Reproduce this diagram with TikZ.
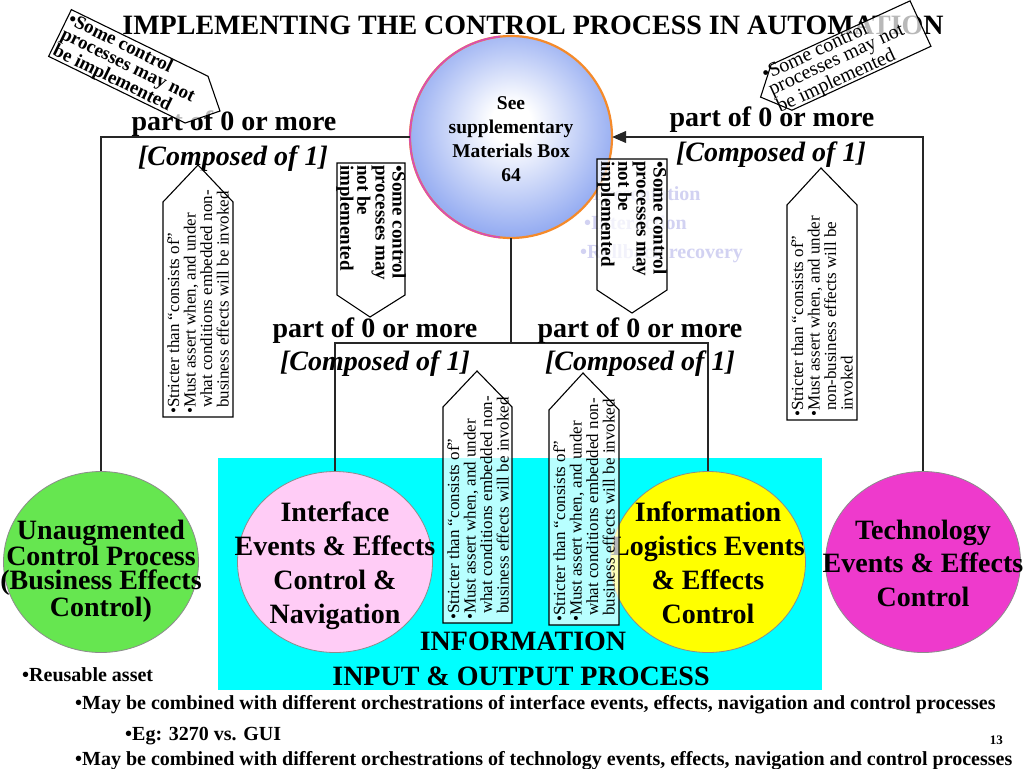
\documentclass[tikz,border=0pt]{standalone}
\usepackage{fontspec}
\setmainfont{Liberation Serif}
\usetikzlibrary{arrows.meta,shapes.geometric}
\definecolor{supblue}{HTML}{5A7EEA}
\definecolor{rimmag}{HTML}{D94FB0}
\definecolor{rimorg}{HTML}{F58A2A}
\definecolor{cgreen}{HTML}{66E650}
\definecolor{cpink}{HTML}{FFCCF6}
\definecolor{cyel}{HTML}{FFFF00}
\definecolor{cmag}{HTML}{EE3ACC}
\definecolor{ccyan}{HTML}{00FFFF}
\definecolor{faded}{HTML}{D2D2F2}
\pgfdeclareradialshading{supshade}{\pgfpoint{0bp}{4bp}}{color(0bp)=(white); color(5bp)=(white); color(38bp)=(supblue); color(50bp)=(supblue)}
\newcommand{\setfs}[2]{\fontsize{#1}{#2}\selectfont}
\begin{document}
\begin{tikzpicture}[x=1pt,y=-1pt,
  conn/.style={draw=black!85, line width=1.2pt},
  lbl/.style={anchor=base, inner sep=0pt, font=\setfs{28}{28}\bfseries},
  lbli/.style={anchor=base, inner sep=0pt, font=\setfs{28}{28}\bfseries\itshape},
  blob/.style={ellipse, draw=black!45, line width=0.8pt, minimum width=195pt, minimum height=181pt, inner sep=0pt},
  ctext/.style={align=center, inner sep=0pt, font=\setfs{28}{#1}\bfseries},
  callout/.style={draw=black, line width=1.1pt, fill=white, fill opacity=0.72},
  vnote/.style={align=left, inner sep=0pt, anchor=west, rotate=90, font=\setfs{17}{16.5}},
  vbold/.style={align=left, inner sep=0pt, anchor=west, rotate=-90, font=\setfs{19}{17}\bfseries},
  btext/.style={anchor=base west, inner sep=0pt, font=\setfs{20}{20}\bfseries},
  fadedtext/.style={anchor=base west, inner sep=0pt, text=faded, font=\setfs{20}{20}\bfseries},
]
\useasboundingbox (0,0) rectangle (1024,768);
\fill[white] (0,0) rectangle (1024,768);
% cyan band
\fill[ccyan] (218,458) rectangle (822,690);
% faded list
\node[fadedtext] (f1) at (586,200) {•Presentation};
\node[fadedtext] (f2) at (584,229) {•Interaction};
\node[fadedtext] (f3) at (580,258) {•Rollback recovery};
% title
\node[anchor=base, inner sep=0pt, font=\setfs{28}{28}\bfseries] (title) at (533,35) {IMPLEMENTING THE CONTROL PROCESS IN AUTOMATION};
% circles
\node[blob, fill=cgreen] (unaug) at (101,562) {};
\node[blob, fill=cpink] (iface) at (335,562) {};
\node[blob, fill=cyel] (info) at (708,562) {};
\node[blob, fill=cmag] (tech) at (923,562) {};
\node[circle, minimum size=202pt, inner sep=0pt, shading=supshade] (sup) at (511,137) {};
\draw[rimorg, line width=2.2pt] (sup.center) circle[radius=101];
\begin{scope}
\clip (395,20) rectangle (500,260);
\draw[rimmag, line width=1.8pt] (sup.center) circle[radius=101];
\end{scope}
\node[align=center, inner sep=0pt, font=\setfs{19.5}{24}\bfseries] (supt) at (511,139) {See\\supplementary\\Materials Box\\64};
% connectors
\coordinate (jmid) at (511,343);
\draw[conn] (sup.west) -| (unaug.north);
\draw[conn, -{Triangle[length=14pt,width=12pt]}] (tech.north) |- (sup.east);
\draw[conn] (sup.south) -- (jmid);
\draw[conn] (iface.north) |- (jmid) -| (info.north);
% labels
\node[lbl] (p1) at (234,130) {part of 0 or more};
\node[lbli] (c1) at (233,165) {[Composed of 1]};
\node[lbl] (p2) at (772,126) {part of 0 or more};
\node[lbli] (c2) at (771,161) {[Composed of 1]};
\node[lbl] (p3) at (375,337) {part of 0 or more};
\node[lbli] (c3) at (375,370) {[Composed of 1]};
\node[lbl] (p4) at (640,337) {part of 0 or more};
\node[lbli] (c4) at (640,370) {[Composed of 1]};
% circle texts
\node[ctext=24] (unaugt) at (101,571) {Unaugmented\\Control Process\\(Business Effects\\Control)};
\node[ctext=34] (ifacet) at (335,566) {Interface\\Events \& Effects\\Control \&\\Navigation};
\node[ctext=34] (infot) at (708,563) {Information\\Logistics Events\\\& Effects\\Control};
\node[ctext=33.5] (techt) at (923,563) {Technology\\Events \& Effects\\Control};
\node[lbl] (io1) at (523,650) {INFORMATION};
\node[lbl] (io2) at (521,685) {INPUT \& OUTPUT PROCESS};
% vertical callouts
\draw[callout] (163,417) -- (163,202) -- (198,165) -- (233,202) -- (233,417) -- cycle;
\node[vnote] (lt) at (198,414) {•Stricter than “consists of”\\•Must assert when, and under\\\phantom{•}what conditions embedded non-\\\phantom{•}business effects will be invoked};
\draw[callout] (787,420) -- (787,205) -- (821,168) -- (857,205) -- (857,420) -- cycle;
\node[vnote] (rt) at (822,417) {•Stricter than “consists of”\\•Must assert when, and under\\\phantom{•}non-business effects will be\\\phantom{•}invoked};
\draw[callout] (443,623) -- (443,407) -- (477,371) -- (512,407) -- (512,623) -- cycle;
\node[vnote] (bt1) at (478,620) {•Stricter than “consists of”\\•Must assert when, and under\\\phantom{•}what conditions embedded non-\\\phantom{•}business effects will be invoked};
\draw[callout] (549,625) -- (549,410) -- (583,373) -- (619,410) -- (619,625) -- cycle;
\node[vnote] (bt2) at (584,622) {•Stricter than “consists of”\\•Must assert when, and under\\\phantom{•}what conditions embedded non-\\\phantom{•}business effects will be invoked};
\draw[callout] (337,163) -- (405,163) -- (405,295) -- (370,317) -- (337,295) -- cycle;
\node[vbold] (clt) at (371,165) {•Some control\\processes may\\not be\\implemented};
\draw[callout] (597,159) -- (667,159) -- (667,290) -- (632,313) -- (597,290) -- cycle;
\node[vbold] (crt) at (632,161) {•Some control\\processes may\\not be\\implemented};
% tilted callouts
\begin{scope}[shift={(60,33)}, rotate=-26]
\draw[callout] (0,-26) -- (152,-26) -- (178,0) -- (152,26) -- (0,26) -- cycle;
\node[anchor=west, inner sep=0pt, align=left, transform shape, font=\setfs{19}{16.5}\bfseries] (tlt) at (2,1) {•Some control\\processes may not\\be implemented};
\end{scope}
\begin{scope}[shift={(781.5,87.5)}, rotate=24.7]
\draw[callout] (-23,0) -- (0,-25) -- (153,-25) -- (153,25) -- (0,25) -- cycle;
\node[anchor=west, inner sep=0pt, align=left, transform shape, font=\setfs{20}{16}] (trt) at (-12,0) {•Some control\\processes may not\\be implemented};
\end{scope}
% bottom texts
\node[btext] (b1) at (22,681) {•Reusable asset};
\node[btext] (b2) at (75,709) {•May be combined with different orchestrations of interface events, effects, navigation and control processes};
\node[btext] (b3) at (125,740) {•Eg: 3270 vs. GUI};
\node[btext] (b4) at (75,765) {•May be combined with different orchestrations of technology events, effects, navigation and control processes};
\node[anchor=base east, inner sep=0pt, font=\setfs{13}{13}\bfseries] (pg) at (1003,744) {13};
\end{tikzpicture}
\end{document}
